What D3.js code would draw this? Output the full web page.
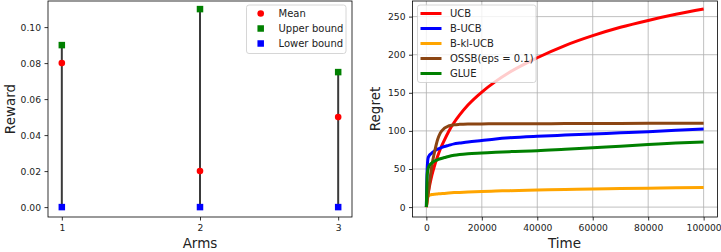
<!DOCTYPE html>
<html>
<head>
<meta charset="utf-8">
<script src="https://cdn.jsdelivr.net/npm/d3@7"></script>
<style>
    body { margin: 0; background: #fff; }
    svg { display: block; font-family: "DejaVu Sans", sans-serif; }
</style>
</head>
<body>
<div id="chart-frame"></div>
<script>
// left panel: arms
var arms = [1, 2, 3];
var armMean = [0.08, 0.02, 0.05];
var armUpper = [0.09, 0.11, 0.075];
var armLower = [0, 0, 0];
var rewardTicks = [0, 0.02, 0.04, 0.06, 0.08, 0.10];

// right panel: regret over time
var times = [0, 300, 600, 1000, 1500, 2000, 3000, 4000, 5000, 6500, 8000, 10000, 12000, 15000,
    20000, 25000, 30000, 40000, 50000, 60000, 70000, 80000, 90000, 100000];
var regretUCB = [0, 10, 17, 25, 34, 42, 55, 66, 76, 88, 99, 111, 121, 134,
    151, 165, 177, 196, 212, 225, 236, 245, 253, 260];
var regretBUCB = [0, 50, 64, 67.5, 69.5, 71, 74, 76, 77.5, 79.5, 81, 83, 84, 85.5,
    87.5, 89.5, 91, 93, 94.5, 96, 97.5, 99, 101, 102.5];
var regretBklUCB = [0, 10, 14, 15.5, 16, 16.5, 17, 17.3, 17.6, 18, 18.5, 19, 19.3, 19.8,
    20.5, 21, 21.6, 22.4, 23.1, 23.8, 24.3, 24.8, 25.3, 25.7];
var regretOSSB = [0, 8, 16, 28, 42, 55, 73, 88, 97, 103.5, 106.5, 108, 108.6, 109,
    109.2, 109.3, 109.4, 109.5, 109.6, 109.7, 109.8, 109.9, 110, 110];
var regretGLUE = [0, 42, 50, 54, 56.5, 58, 60.5, 62, 63.5, 65, 66.5, 68, 69, 70,
    71, 72, 72.8, 74, 76, 78, 80, 82, 84, 85.5];
var seriesNames = ["UCB", "B-UCB", "B-kl-UCB", "OSSB(eps = 0.1)", "GLUE"];
var seriesColors = ["#ff0000", "#0000ff", "#ffa500", "#8b4513", "#008000"];
var timeTicks = [0, 20000, 40000, 60000, 80000, 100000];
var regretTicks = [0, 50, 100, 150, 200, 250];

var WIDTH = 721, HEIGHT = 252;
var TOP = 1, BOTTOM = 217;

var svg = d3.select("#chart-frame")
    .append("svg")
    .attr("width", WIDTH)
    .attr("height", HEIGHT);

function drawAxes(g, x, y, xTicks, yTicks, xFmt, yFmt) {
    g.append("g")
        .attr("transform", "translate(0," + BOTTOM + ")")
        .call(d3.axisBottom(x).tickValues(xTicks).tickFormat(xFmt).tickSizeOuter(0).tickSize(3.5).tickPadding(3.5))
        .call(styleAxis);
    g.append("g")
        .attr("transform", "translate(" + x.range()[0] + ",0)")
        .call(d3.axisLeft(y).tickValues(yTicks).tickFormat(yFmt).tickSizeOuter(0).tickSize(3.5).tickPadding(3.5))
        .call(styleAxis);
}

function styleAxis(a) {
    a.select(".domain").remove();
    a.selectAll("line").attr("stroke", "#000").attr("stroke-width", 0.8);
    a.selectAll("text").attr("fill", "#222").attr("font-size", "9.2px")
        .attr("font-family", "DejaVu Sans, sans-serif");
}

function frame(g, x, y) {
    g.append("rect")
        .attr("x", x.range()[0])
        .attr("y", TOP)
        .attr("width", x.range()[1] - x.range()[0])
        .attr("height", BOTTOM - TOP)
        .attr("fill", "none")
        .attr("stroke", "#000")
        .attr("stroke-width", 0.8);
}

function legendBox(g, x0, y0, w, h) {
    g.append("rect")
        .attr("x", x0).attr("y", y0)
        .attr("width", w).attr("height", h)
        .attr("rx", 2.5)
        .attr("fill", "#fff").attr("fill-opacity", 0.8)
        .attr("stroke", "#cccccc").attr("stroke-width", 0.8);
}

// ---------- left: reward per arm ----------
var left = svg.append("g");
var xArm = d3.scaleLinear().domain([0.9, 3.1]).range([48, 352]);
var yReward = d3.scaleLinear().domain([-0.0055, 0.1145]).range([BOTTOM, TOP]);

var armData = arms.map(function(a, i) {
    return {"arm" : a, "mean" : armMean[i], "upper" : armUpper[i], "lower" : armLower[i]};
});

left.selectAll(".span")
    .data(armData)
    .enter().append("line")
    .attr("x1", function(d) { return xArm(d.arm); })
    .attr("x2", function(d) { return xArm(d.arm); })
    .attr("y1", function(d) { return yReward(d.lower); })
    .attr("y2", function(d) { return yReward(d.upper); })
    .attr("stroke", "#3a3a3a")
    .attr("stroke-width", 2);

left.selectAll(".mean")
    .data(armData)
    .enter().append("circle")
    .attr("cx", function(d) { return xArm(d.arm); })
    .attr("cy", function(d) { return yReward(d.mean); })
    .attr("r", 3.3)
    .attr("fill", "#ff0000");

var SQ = 6.5;
left.selectAll(".upper")
    .data(armData)
    .enter().append("rect")
    .attr("x", function(d) { return xArm(d.arm) - SQ / 2; })
    .attr("y", function(d) { return yReward(d.upper) - SQ / 2; })
    .attr("width", SQ).attr("height", SQ)
    .attr("fill", "#008000");

left.selectAll(".lower")
    .data(armData)
    .enter().append("rect")
    .attr("x", function(d) { return xArm(d.arm) - SQ / 2; })
    .attr("y", function(d) { return yReward(d.lower) - SQ / 2; })
    .attr("width", SQ).attr("height", SQ)
    .attr("fill", "#0000ff");

frame(left, xArm, yReward);
drawAxes(left, xArm, yReward, arms, rewardTicks, d3.format("d"), d3.format(".2f"));

left.append("text")
    .attr("x", 200).attr("y", 247.5)
    .attr("text-anchor", "middle").attr("font-size", "13.5px").attr("fill", "#222")
    .text("Arms");
left.append("text")
    .attr("transform", "translate(15," + ((TOP + BOTTOM) / 2) + ") rotate(-90)")
    .attr("text-anchor", "middle").attr("font-size", "13.5px").attr("fill", "#222")
    .text("Reward");

// legend
legendBox(left, 246.5, 5, 99.5, 48.5);
var legendLeft = [
    {"label" : "Mean", "shape" : "circle", "color" : "#ff0000"},
    {"label" : "Upper bound", "shape" : "square", "color" : "#008000"},
    {"label" : "Lower bound", "shape" : "square", "color" : "#0000ff"}
];
legendLeft.forEach(function(d, i) {
    var ly = 13.5 + i * 15;
    if (d.shape == "circle") {
        left.append("circle").attr("cx", 260.7).attr("cy", ly).attr("r", 3.3).attr("fill", d.color);
    } else {
        left.append("rect").attr("x", 260.7 - SQ / 2).attr("y", ly - SQ / 2)
            .attr("width", SQ).attr("height", SQ).attr("fill", d.color);
    }
    left.append("text").attr("x", 278.5).attr("y", ly + 3.6)
        .attr("font-size", "10px").attr("fill", "#222").text(d.label);
});

// ---------- right: regret ----------
var right = svg.append("g");
var xTime = d3.scaleLinear().domain([-5000, 105000]).range([412.5, 717.5]);
var yRegret = d3.scaleLinear().domain([-13, 270.5]).range([BOTTOM, TOP]);

// grid
right.selectAll(".vgrid")
    .data(timeTicks)
    .enter().append("line")
    .attr("x1", function(d) { return xTime(d); })
    .attr("x2", function(d) { return xTime(d); })
    .attr("y1", TOP).attr("y2", BOTTOM)
    .attr("stroke", "#b0b0b0").attr("stroke-width", 0.8);
right.selectAll(".hgrid")
    .data(regretTicks)
    .enter().append("line")
    .attr("x1", xTime.range()[0]).attr("x2", xTime.range()[1])
    .attr("y1", function(d) { return yRegret(d); })
    .attr("y2", function(d) { return yRegret(d); })
    .attr("stroke", "#b0b0b0").attr("stroke-width", 0.8);

var allSeries = [regretUCB, regretBUCB, regretBklUCB, regretOSSB, regretGLUE];
var line = d3.line()
    .x(function(d, i) { return xTime(times[i]); })
    .y(function(d) { return yRegret(d); })
    .curve(d3.curveMonotoneX);

right.selectAll(".curve")
    .data(allSeries)
    .enter().append("path")
    .attr("d", line)
    .attr("fill", "none")
    .attr("stroke", function(d, i) { return seriesColors[i]; })
    .attr("stroke-width", 3);

frame(right, xTime, yRegret);
drawAxes(right, xTime, yRegret, timeTicks, regretTicks, d3.format("d"), d3.format("d"));

right.append("text")
    .attr("x", 564.5).attr("y", 247.5)
    .attr("text-anchor", "middle").attr("font-size", "13.5px").attr("fill", "#222")
    .text("Time");
right.append("text")
    .attr("transform", "translate(380," + ((TOP + BOTTOM) / 2) + ") rotate(-90)")
    .attr("text-anchor", "middle").attr("font-size", "13.5px").attr("fill", "#222")
    .text("Regret");

legendBox(right, 417.5, 5, 118.5, 77.5);
seriesNames.forEach(function(name, i) {
    var ly = 13.5 + i * 15;
    right.append("line")
        .attr("x1", 420.5).attr("x2", 441.5)
        .attr("y1", ly).attr("y2", ly)
        .attr("stroke", seriesColors[i]).attr("stroke-width", 3);
    right.append("text").attr("x", 450).attr("y", ly + 3.6)
        .attr("font-size", "10px").attr("fill", "#222").text(name);
});
</script>
</body>
</html>
